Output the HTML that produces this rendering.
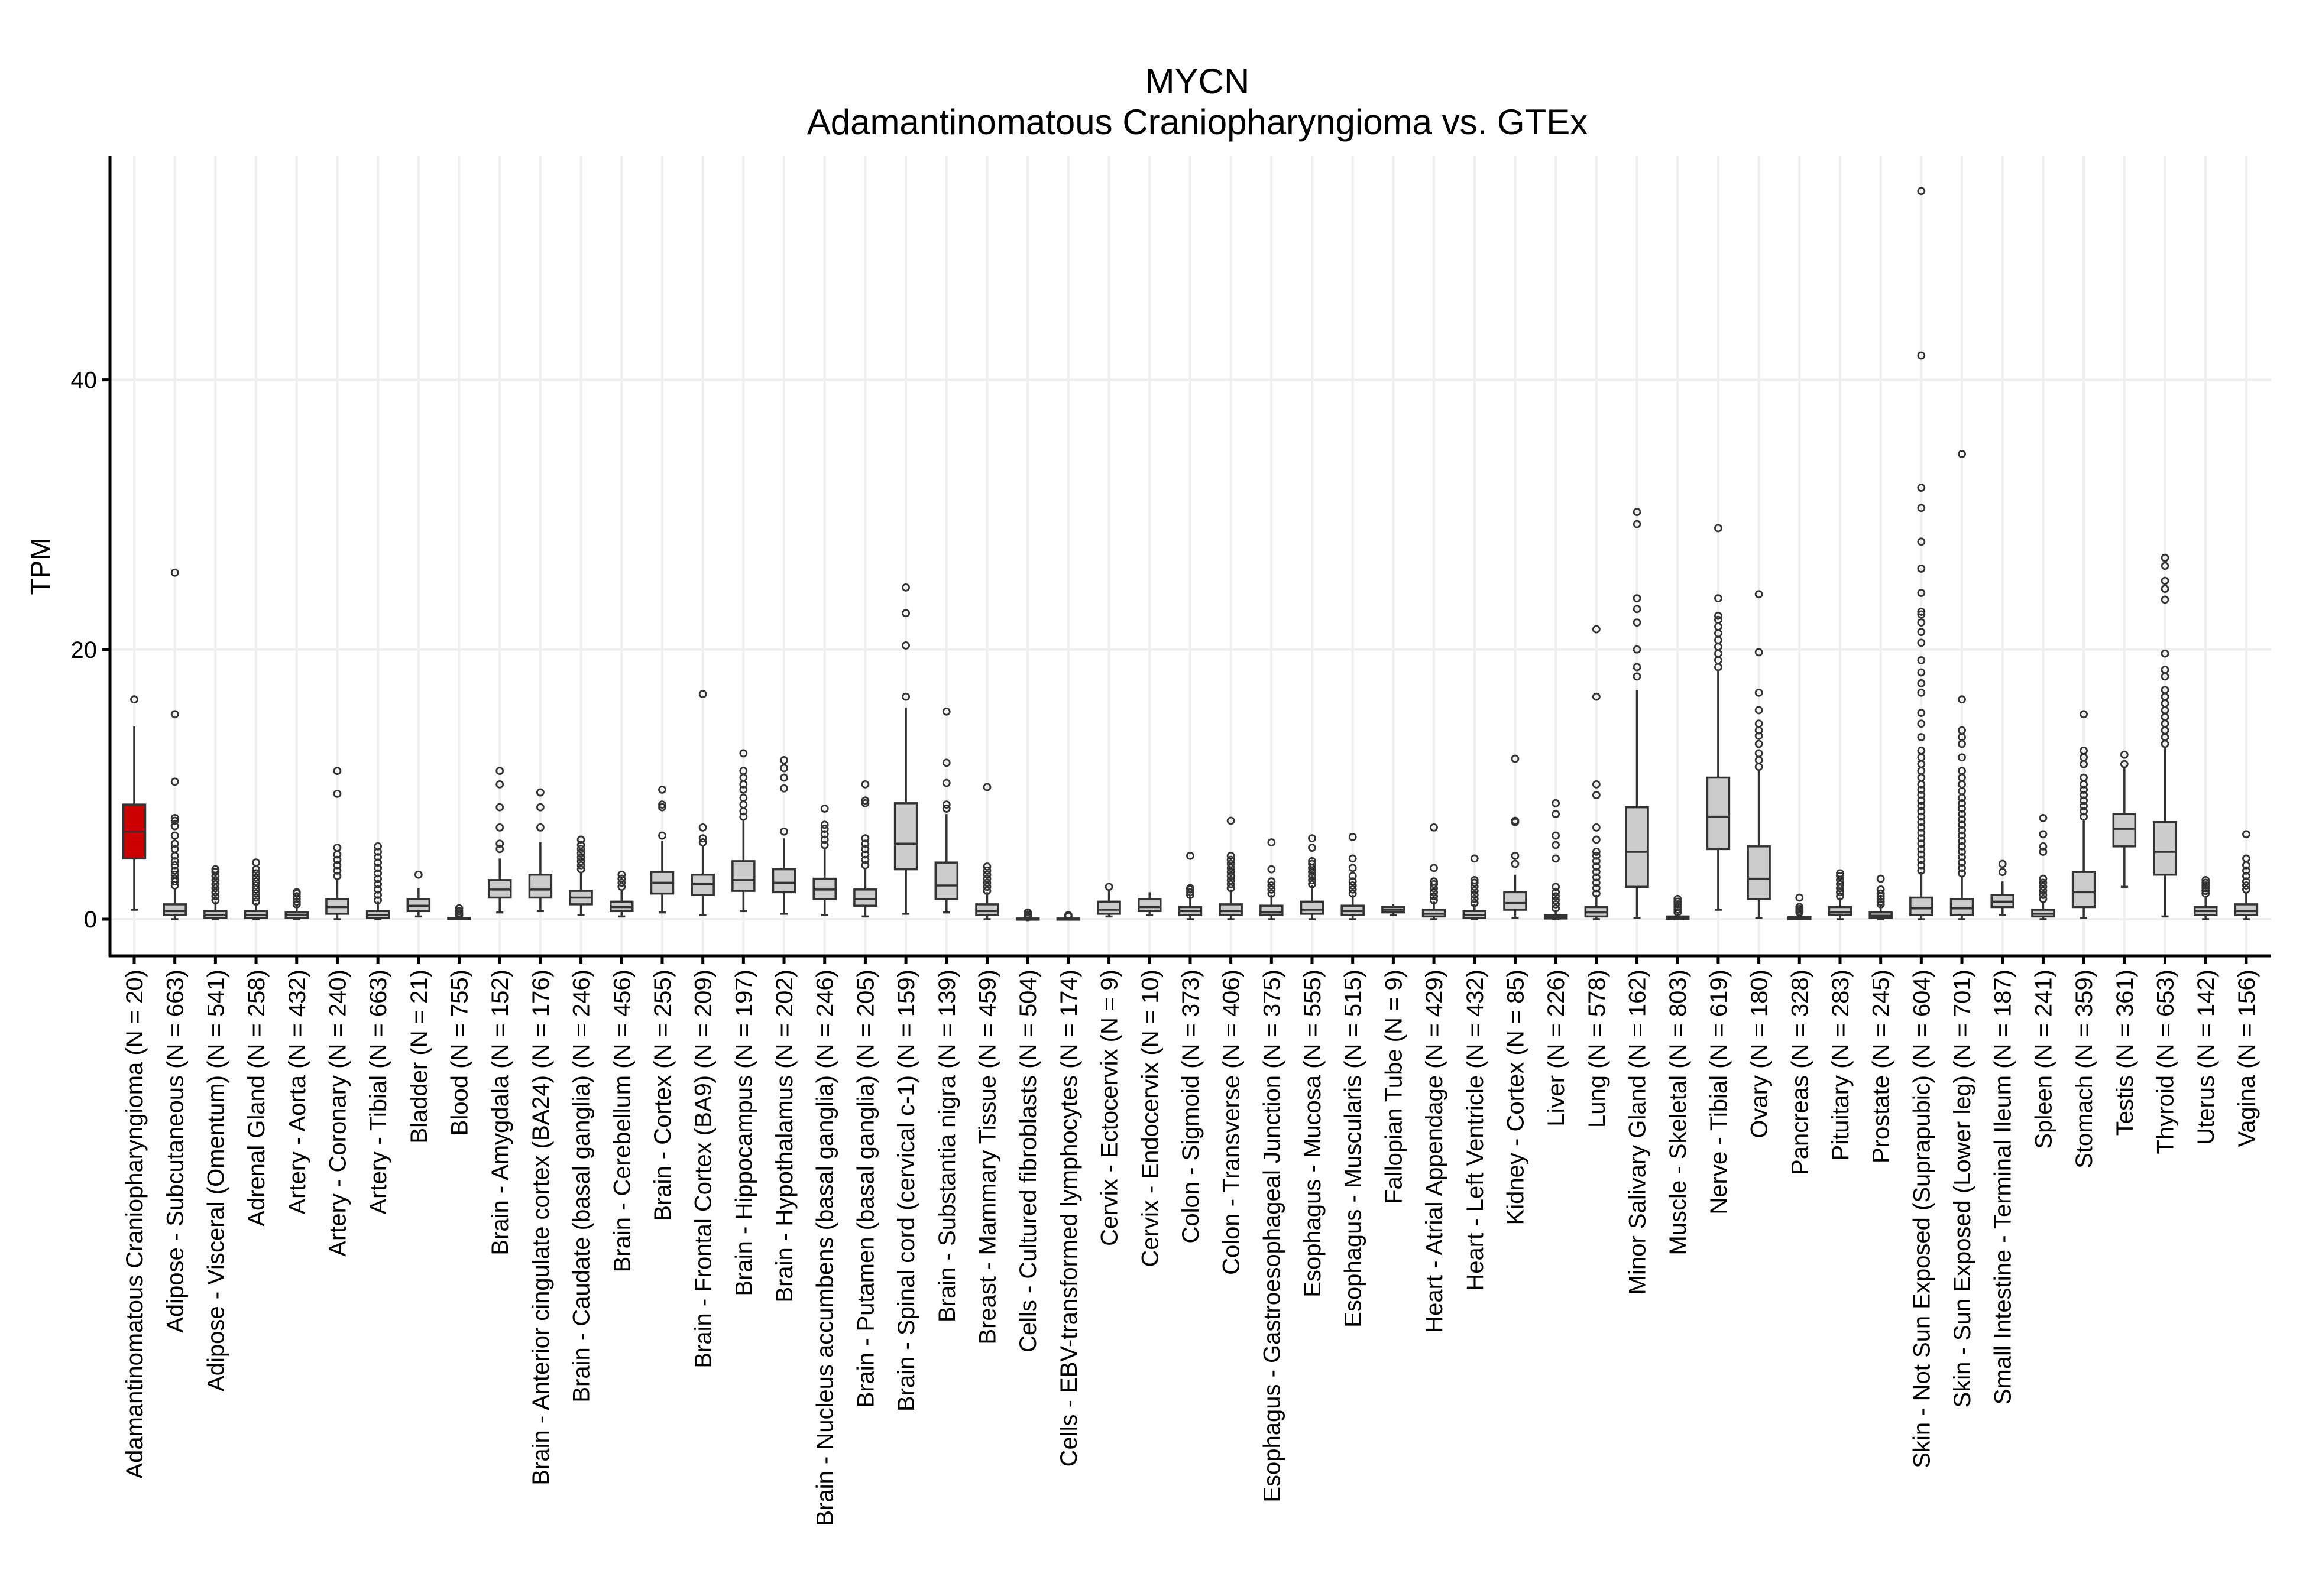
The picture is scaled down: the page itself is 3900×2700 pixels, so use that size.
<!DOCTYPE html>
<html><head><meta charset="utf-8"><style>
html,body{margin:0;padding:0;background:#fff}
svg{display:block;font-family:"Liberation Sans",Arial,sans-serif}
</style></head><body>
<svg id="chart" width="3900" height="2700" viewBox="0 0 3900 2700" xmlns="http://www.w3.org/2000/svg">
<text x="2025" y="158" text-anchor="middle" font-size="60">MYCN</text>
<text x="2025" y="227" text-anchor="middle" font-size="60">Adamantinomatous Craniopharyngioma vs. GTEx</text>
<text transform="translate(84,958) rotate(-90)" text-anchor="middle" font-size="46">TPM</text>
<g id="grid"></g><g id="boxes"></g><g id="axes"></g>
</svg>
<script>
const categories=["Adamantinomatous Craniopharyngioma (N = 20)","Adipose - Subcutaneous (N = 663)","Adipose - Visceral (Omentum) (N = 541)","Adrenal Gland (N = 258)","Artery - Aorta (N = 432)","Artery - Coronary (N = 240)","Artery - Tibial (N = 663)","Bladder (N = 21)","Blood (N = 755)","Brain - Amygdala (N = 152)","Brain - Anterior cingulate cortex (BA24) (N = 176)","Brain - Caudate (basal ganglia) (N = 246)","Brain - Cerebellum (N = 456)","Brain - Cortex (N = 255)","Brain - Frontal Cortex (BA9) (N = 209)","Brain - Hippocampus (N = 197)","Brain - Hypothalamus (N = 202)","Brain - Nucleus accumbens (basal ganglia) (N = 246)","Brain - Putamen (basal ganglia) (N = 205)","Brain - Spinal cord (cervical c-1) (N = 159)","Brain - Substantia nigra (N = 139)","Breast - Mammary Tissue (N = 459)","Cells - Cultured fibroblasts (N = 504)","Cells - EBV-transformed lymphocytes (N = 174)","Cervix - Ectocervix (N = 9)","Cervix - Endocervix (N = 10)","Colon - Sigmoid (N = 373)","Colon - Transverse (N = 406)","Esophagus - Gastroesophageal Junction (N = 375)","Esophagus - Mucosa (N = 555)","Esophagus - Muscularis (N = 515)","Fallopian Tube (N = 9)","Heart - Atrial Appendage (N = 429)","Heart - Left Ventricle (N = 432)","Kidney - Cortex (N = 85)","Liver (N = 226)","Lung (N = 578)","Minor Salivary Gland (N = 162)","Muscle - Skeletal (N = 803)","Nerve - Tibial (N = 619)","Ovary (N = 180)","Pancreas (N = 328)","Pituitary (N = 283)","Prostate (N = 245)","Skin - Not Sun Exposed (Suprapubic) (N = 604)","Skin - Sun Exposed (Lower leg) (N = 701)","Small Intestine - Terminal Ileum (N = 187)","Spleen (N = 241)","Stomach (N = 359)","Testis (N = 361)","Thyroid (N = 653)","Uterus (N = 142)","Vagina (N = 156)"];
const q1=[4.5,0.3,0.1,0.1,0.1,0.4,0.1,0.6,0,1.6,1.6,1.1,0.6,1.9,1.8,2.1,2,1.5,1,3.7,1.5,0.3,0,0,0.4,0.6,0.3,0.3,0.3,0.4,0.3,0.5,0.2,0.1,0.7,0.05,0.2,2.4,0.02,5.2,1.5,0,0.3,0.1,0.3,0.3,0.9,0.2,0.9,5.4,3.3,0.3,0.3];
const medians=[6.5,0.6,0.3,0.3,0.3,0.9,0.3,1,0.05,2.2,2.2,1.6,0.9,2.7,2.6,2.9,2.7,2.2,1.5,5.6,2.5,0.6,0.02,0.02,0.7,0.9,0.6,0.6,0.5,0.7,0.6,0.7,0.4,0.3,1.2,0.15,0.5,5,0.1,7.6,3,0.05,0.5,0.25,0.8,0.8,1.3,0.4,2,6.7,5,0.6,0.6];
const q3=[8.5,1.1,0.6,0.6,0.5,1.5,0.6,1.5,0.1,2.9,3.3,2.1,1.3,3.5,3.3,4.3,3.7,3,2.2,8.6,4.2,1.1,0.05,0.05,1.3,1.5,0.9,1.1,1,1.3,1,0.9,0.7,0.6,2,0.3,0.9,8.3,0.2,10.5,5.4,0.15,0.9,0.5,1.6,1.5,1.8,0.7,3.5,7.8,7.2,0.9,1.1];
const whiskerLow=[0.7,0,0,0,0,0,0,0.2,0,0.5,0.6,0.3,0.2,0.5,0.3,0.6,0.4,0.3,0.2,0.4,0.5,0,0,0,0.2,0.3,0,0,0,0,0,0.3,0,0,0.1,0,0,0.1,0,0.7,0.1,0,0,0,0,0,0.3,0,0.1,2.4,0.2,0,0];
const whiskerHigh=[14.3,2.3,1.3,1.2,1,3,1.3,2.3,0.2,4.5,5.7,3.5,2.2,5.8,5.5,7.3,6,5.2,3.8,15.7,7.8,2,0.1,0.1,2.2,2,1.7,2.2,1.8,2.5,1.8,1.1,1.3,1.1,3.3,0.7,1.8,17,0.4,18.5,11,0.4,1.6,1,3.5,3.2,2.8,1.3,7.3,11.2,12.8,1.7,2];
const outliers=[
[16.3],
[2.5,2.8,3,3.3,3.6,4,4.3,4.7,5.2,5.6,6.2,6.9,7.3,7.5,10.2,15.2,25.7],
[1.4,1.7,2,2.3,2.6,2.9,3.2,3.5,3.7],
[1.3,1.6,1.9,2.2,2.5,2.8,3.1,3.4,3.7,4.2],
[1.1,1.3,1.5,1.7,1.9,2],
[3.2,3.6,4,4.4,4.8,5.3,9.3,11],
[1.4,1.8,2.2,2.6,3,3.4,3.8,4.2,4.6,5,5.4],
[3.3],
[0.3,0.45,0.6,0.8],
[5.2,5.6,6.8,8.3,10,11],
[6.8,8.3,9.4],
[3.7,4,4.3,4.6,4.9,5.2,5.5,5.9],
[2.4,2.7,3,3.3],
[6.2,8.3,8.5,9.6],
[5.7,6,6.8,16.7],
[7.6,8,8.5,9,9.6,10,10.5,11,12.3],
[6.5,9.7,10.5,11.2,11.8],
[5.5,5.9,6.3,6.7,7,8.2],
[4,4.4,4.8,5.2,5.6,6,8.6,8.8,10],
[16.5,20.3,22.7,24.6],
[8.2,8.5,10.1,11.6,15.4],
[2.1,2.4,2.7,3,3.3,3.6,3.9,9.8],
[0.15,0.25,0.35,0.5],
[0.2,0.3],
[2.4],
[],
[1.8,2,2.2,2.3,4.7],
[2.3,2.6,2.9,3.2,3.5,3.8,4.1,4.4,4.7,7.3],
[1.9,2.2,2.5,2.8,3.7,5.7],
[2.6,2.9,3.2,3.5,3.8,4.1,4.3,5.3,6],
[1.9,2.2,2.5,2.8,3.2,3.8,4.5,6.1],
[],
[1.4,1.7,2,2.3,2.6,2.8,3.8,6.8],
[1.2,1.5,1.8,2.1,2.4,2.7,2.9,4.5],
[4.1,4.7,7.2,7.3,11.9],
[0.8,1.1,1.4,1.7,2,2.4,4.5,5.5,6.2,7.8,8.6],
[1.9,2.3,2.7,3.1,3.5,3.9,4.3,4.7,5,5.9,6.8,9.2,10,16.5,21.5],
[18,18.7,20,22,23,23.8,29.3,30.2],
[0.5,0.7,0.9,1.1,1.3,1.5],
[18.7,19.2,19.7,20.2,20.7,21.2,21.7,22.2,22.5,23.8,29],
[11.3,11.8,12.3,13,13.6,14,14.5,15.5,16.8,19.8,24.1],
[0.5,0.6,0.75,0.9,1.6],
[1.7,2,2.3,2.6,2.9,3.2,3.4],
[1.1,1.3,1.5,1.7,1.9,2.2,3],
[3.6,4,4.4,4.8,5.2,5.6,6,6.4,6.8,7.2,7.6,8,8.4,8.8,9.2,9.6,10,10.5,11,11.5,12,12.5,13.5,14.5,15.3,16.8,17.5,18.3,19.2,20.5,21.3,22,22.6,22.8,24.2,26,28,30.5,32,41.8,54],
[3.4,3.8,4.2,4.6,5,5.4,5.8,6.2,6.6,7,7.4,7.8,8.2,8.6,9,9.5,10,10.5,11,12,13,13.5,14,16.3,34.5],
[3.5,4.1],
[1.5,1.8,2.1,2.4,2.7,3,5,5.4,6.3,7.5],
[7.6,8,8.4,8.8,9.2,9.6,10,10.5,11.5,12,12.5,15.2],
[11.5,12.2],
[13,13.5,14,14.5,15,15.5,16,16.5,17,18,18.5,19.7,23.7,24.5,25.1,26.2,26.8],
[1.9,2.1,2.3,2.5,2.7,2.9],
[2.2,2.5,2.8,3.2,3.6,4,4.5,6.3]
];
const yTicks=[0,20,40];
const NS="http://www.w3.org/2000/svg";
const X0=227,DX=68.69,Y0=1555,KY=22.81,TOP=264,BOT=1617,LEFT=186,RIGHT=3841;
const xS=i=>X0+i*DX, yS=v=>Y0-v*KY;
function mk(p,t,a){const e=document.createElementNS(NS,t);for(const k in a)e.setAttribute(k,a[k]);p.appendChild(e);return e;}
const grid=document.getElementById('grid'),boxes=document.getElementById('boxes'),axes=document.getElementById('axes');
for(const t of [0,20,40]){const l=mk(grid,'line',{x1:LEFT,x2:RIGHT,y1:yS(t),y2:yS(t),stroke:'#efefef','stroke-width':4});

}
categories.forEach((c,i)=>{const l=mk(grid,'line',{x1:xS(i),x2:xS(i),y1:TOP,y2:BOT,stroke:'#efefef','stroke-width':4});

});
const W=37;
categories.forEach((c,i)=>{
 const g=mk(boxes,'g',{});
 
 
 const x=xS(i);
 mk(g,'line',{x1:x,x2:x,y1:yS(whiskerHigh[i]),y2:yS(q3[i]),stroke:'#333','stroke-width':3.5});
 mk(g,'line',{x1:x,x2:x,y1:yS(q1[i]),y2:yS(whiskerLow[i]),stroke:'#333','stroke-width':3.5});
 mk(g,'line',{x1:x-6,x2:x+6,y1:yS(whiskerLow[i]),y2:yS(whiskerLow[i]),stroke:'#333','stroke-width':3.5});
 const h=Math.max(yS(q1[i])-yS(q3[i]),2);
 mk(g,'rect',{x:x-W/2,y:yS(q3[i]),width:W,height:h,fill:i===0?'#cc0000':'#cccccc',stroke:'#333','stroke-width':3.5});
 mk(g,'line',{x1:x-W/2,x2:x+W/2,y1:yS(medians[i]),y2:yS(medians[i]),stroke:'#333','stroke-width':3.5});
 outliers[i].forEach(v=>{const o=mk(g,'circle',{cx:x,cy:yS(v),r:5.5,fill:'none',stroke:'#333','stroke-width':2.8});
 
 });
});
const ya=mk(axes,'line',{x1:LEFT,x2:LEFT,y1:TOP,y2:BOT+2,stroke:'#000','stroke-width':5});


const xa=mk(axes,'line',{x1:LEFT-2,x2:RIGHT,y1:BOT,y2:BOT,stroke:'#000','stroke-width':5});


yTicks.forEach(t=>{mk(axes,'line',{x1:LEFT-13,x2:LEFT,y1:yS(t),y2:yS(t),stroke:'#000','stroke-width':5});
 const tx=mk(axes,'text',{x:LEFT-22,y:yS(t)+14,'text-anchor':'end','font-size':40});
 tx.textContent=t;
 
 });
categories.forEach((c,i)=>{const x=xS(i);
 mk(axes,'line',{x1:x,x2:x,y1:BOT,y2:BOT+13,stroke:'#000','stroke-width':5});
 const tx=mk(axes,'text',{transform:`translate(${x+14},1640) rotate(-90)`,'text-anchor':'end','font-size':40});
 tx.textContent=c;
 
 });
</script>
</body></html>
